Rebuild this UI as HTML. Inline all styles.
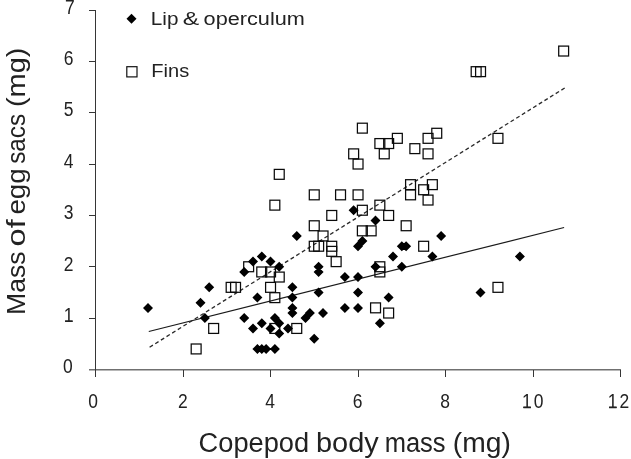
<!DOCTYPE html>
<html><head><meta charset="utf-8"><title>Chart</title>
<style>html,body{margin:0;padding:0;background:#fff;}body{width:631px;height:459px;overflow:hidden;}svg{display:block;will-change:transform;opacity:0.999;}text{font-family:"Liberation Sans",sans-serif;fill:#222;}</style>
</head><body>
<svg width="631" height="459" viewBox="0 0 631 459">
<rect x="0" y="0" width="631" height="459" fill="#ffffff"/>
<line x1="89.0" y1="369.75" x2="621.0" y2="369.75" stroke="#707070" stroke-width="1.5"/>
<g stroke="#363636" stroke-width="1" fill="none" shape-rendering="crispEdges">
<line x1="95.5" y1="10.0" x2="95.5" y2="377.0"/>
<line x1="89.0" y1="318.14" x2="95.5" y2="318.14"/>
<line x1="89.0" y1="266.79" x2="95.5" y2="266.79"/>
<line x1="89.0" y1="215.43" x2="95.5" y2="215.43"/>
<line x1="89.0" y1="164.07" x2="95.5" y2="164.07"/>
<line x1="89.0" y1="112.71" x2="95.5" y2="112.71"/>
<line x1="89.0" y1="61.36" x2="95.5" y2="61.36"/>
<line x1="89.0" y1="10.00" x2="95.5" y2="10.00"/>
<line x1="183.00" y1="369.5" x2="183.00" y2="377.0"/>
<line x1="270.50" y1="369.5" x2="270.50" y2="377.0"/>
<line x1="358.00" y1="369.5" x2="358.00" y2="377.0"/>
<line x1="445.50" y1="369.5" x2="445.50" y2="377.0"/>
<line x1="533.00" y1="369.5" x2="533.00" y2="377.0"/>
<line x1="620.50" y1="369.5" x2="620.50" y2="377.0"/>
</g>
<g font-size="20.3" text-anchor="middle">
<text x="67.8" y="373.2" textLength="9.71" lengthAdjust="spacingAndGlyphs">0</text>
<text x="68.6" y="321.8" textLength="9.71" lengthAdjust="spacingAndGlyphs">1</text>
<rect x="65.1" y="320.5" width="7.5" height="1.35" fill="#222"/>
<text x="68.6" y="270.5" textLength="9.71" lengthAdjust="spacingAndGlyphs">2</text>
<text x="68.6" y="219.1" textLength="9.71" lengthAdjust="spacingAndGlyphs">3</text>
<text x="68.6" y="167.8" textLength="9.71" lengthAdjust="spacingAndGlyphs">4</text>
<text x="68.6" y="116.4" textLength="9.71" lengthAdjust="spacingAndGlyphs">5</text>
<text x="68.6" y="65.1" textLength="9.71" lengthAdjust="spacingAndGlyphs">6</text>
<text x="69.8" y="14.3" textLength="9.71" lengthAdjust="spacingAndGlyphs">7</text>
<text x="93.2" y="408.3" textLength="9.71" lengthAdjust="spacingAndGlyphs">0</text>
<text x="182.8" y="408.3" textLength="9.71" lengthAdjust="spacingAndGlyphs">2</text>
<text x="270.2" y="408.3" textLength="9.71" lengthAdjust="spacingAndGlyphs">4</text>
<text x="357.7" y="408.3" textLength="9.71" lengthAdjust="spacingAndGlyphs">6</text>
<text x="445.2" y="408.3" textLength="9.71" lengthAdjust="spacingAndGlyphs">8</text>
<text x="526.9" y="408.3" textLength="9.71" lengthAdjust="spacingAndGlyphs">1</text>
<rect x="523.4" y="406.9" width="7.5" height="1.35" fill="#222"/>
<text x="538.5" y="408.3" textLength="9.71" lengthAdjust="spacingAndGlyphs">0</text>
<text x="612.6" y="408.3" textLength="9.71" lengthAdjust="spacingAndGlyphs">1</text>
<rect x="609.1" y="406.9" width="7.5" height="1.35" fill="#222"/>
<text x="624.4" y="408.3" textLength="9.71" lengthAdjust="spacingAndGlyphs">2</text>
</g>
<text x="198.6" y="451.6" font-size="26.8" textLength="110.47" lengthAdjust="spacingAndGlyphs">Copepod</text>
<text x="316.0" y="451.6" font-size="26.8" textLength="62.69" lengthAdjust="spacingAndGlyphs">body</text>
<text x="384.7" y="451.6" font-size="26.8" textLength="60.9" lengthAdjust="spacingAndGlyphs">mass</text>
<text x="452.8" y="451.6" font-size="26.8" textLength="58.03" lengthAdjust="spacingAndGlyphs">(mg)</text>
<text transform="translate(25.4,314.9) rotate(-90)" font-size="26.6" textLength="63.37" lengthAdjust="spacingAndGlyphs">Mass</text>
<text transform="translate(25.4,246.4) rotate(-90)" font-size="26.6" textLength="27.16" lengthAdjust="spacingAndGlyphs">of</text>
<text transform="translate(25.4,214.6) rotate(-90)" font-size="26.6" textLength="46.36" lengthAdjust="spacingAndGlyphs">egg</text>
<text transform="translate(25.4,163.8) rotate(-90)" font-size="26.6" textLength="49.88" lengthAdjust="spacingAndGlyphs">sacs</text>
<text transform="translate(25.4,107.1) rotate(-90)" font-size="26.6" textLength="59.45" lengthAdjust="spacingAndGlyphs">(mg)</text>
<text x="150.8" y="24.8" font-size="18.7" textLength="27.63" lengthAdjust="spacingAndGlyphs">Lip</text>
<text x="182.8" y="24.8" font-size="18.7" textLength="16.4" lengthAdjust="spacingAndGlyphs">&amp;</text>
<text x="203.6" y="24.8" font-size="18.7" textLength="101.25" lengthAdjust="spacingAndGlyphs">operculum</text>
<text x="151.3" y="77.2" font-size="18.7" textLength="37.89" lengthAdjust="spacingAndGlyphs">Fins</text>
<path d="M131.5 13.7 L136.5 18.7 L131.5 23.7 L126.5 18.7 Z" fill="#000"/>
<rect x="126.80" y="66.70" width="10.2" height="10.2" fill="none" stroke="#111" stroke-width="1.2"/>
<line x1="148.8" y1="331.5" x2="564.1" y2="227.5" stroke="#1a1a1a" stroke-width="1.2"/>
<line x1="149.6" y1="347.2" x2="564.7" y2="88" stroke="#2a2a2a" stroke-width="1.3" stroke-dasharray="3.9 2.75"/>
<g fill="none" stroke="#0a0a0a" stroke-width="1.25">
<rect x="191.2" y="344.0" width="9.9" height="9.9"/>
<rect x="208.7" y="323.5" width="9.9" height="9.9"/>
<rect x="226.2" y="282.4" width="9.9" height="9.9"/>
<rect x="230.6" y="282.4" width="9.9" height="9.9"/>
<rect x="243.7" y="261.8" width="9.9" height="9.9"/>
<rect x="256.8" y="267.0" width="9.9" height="9.9"/>
<rect x="265.6" y="267.0" width="9.9" height="9.9"/>
<rect x="274.3" y="272.1" width="9.9" height="9.9"/>
<rect x="265.6" y="282.4" width="9.9" height="9.9"/>
<rect x="269.9" y="292.7" width="9.9" height="9.9"/>
<rect x="269.9" y="323.5" width="9.9" height="9.9"/>
<rect x="291.8" y="323.5" width="9.9" height="9.9"/>
<rect x="309.3" y="189.9" width="9.9" height="9.9"/>
<rect x="335.6" y="189.9" width="9.9" height="9.9"/>
<rect x="353.1" y="189.9" width="9.9" height="9.9"/>
<rect x="326.8" y="210.5" width="9.9" height="9.9"/>
<rect x="309.3" y="220.8" width="9.9" height="9.9"/>
<rect x="318.1" y="231.0" width="9.9" height="9.9"/>
<rect x="309.3" y="241.3" width="9.9" height="9.9"/>
<rect x="313.7" y="241.3" width="9.9" height="9.9"/>
<rect x="326.8" y="241.3" width="9.9" height="9.9"/>
<rect x="326.8" y="246.4" width="9.9" height="9.9"/>
<rect x="331.2" y="256.7" width="9.9" height="9.9"/>
<rect x="357.4" y="205.3" width="9.9" height="9.9"/>
<rect x="374.9" y="200.2" width="9.9" height="9.9"/>
<rect x="383.7" y="210.5" width="9.9" height="9.9"/>
<rect x="357.4" y="225.9" width="9.9" height="9.9"/>
<rect x="366.2" y="225.9" width="9.9" height="9.9"/>
<rect x="374.9" y="261.8" width="9.9" height="9.9"/>
<rect x="374.9" y="267.0" width="9.9" height="9.9"/>
<rect x="370.6" y="302.9" width="9.9" height="9.9"/>
<rect x="383.7" y="308.1" width="9.9" height="9.9"/>
<rect x="405.6" y="179.7" width="9.9" height="9.9"/>
<rect x="405.6" y="189.9" width="9.9" height="9.9"/>
<rect x="418.7" y="184.8" width="9.9" height="9.9"/>
<rect x="427.4" y="179.7" width="9.9" height="9.9"/>
<rect x="423.1" y="195.1" width="9.9" height="9.9"/>
<rect x="401.2" y="220.8" width="9.9" height="9.9"/>
<rect x="418.7" y="241.3" width="9.9" height="9.9"/>
<rect x="357.4" y="123.2" width="9.9" height="9.9"/>
<rect x="348.7" y="148.9" width="9.9" height="9.9"/>
<rect x="353.1" y="159.1" width="9.9" height="9.9"/>
<rect x="374.9" y="138.6" width="9.9" height="9.9"/>
<rect x="383.7" y="138.6" width="9.9" height="9.9"/>
<rect x="392.4" y="133.4" width="9.9" height="9.9"/>
<rect x="379.3" y="148.9" width="9.9" height="9.9"/>
<rect x="409.9" y="143.7" width="9.9" height="9.9"/>
<rect x="423.1" y="133.4" width="9.9" height="9.9"/>
<rect x="431.8" y="128.3" width="9.9" height="9.9"/>
<rect x="423.1" y="148.9" width="9.9" height="9.9"/>
<rect x="274.3" y="169.4" width="9.9" height="9.9"/>
<rect x="269.9" y="200.2" width="9.9" height="9.9"/>
<rect x="471.2" y="66.7" width="9.9" height="9.9"/>
<rect x="475.6" y="66.7" width="9.9" height="9.9"/>
<rect x="558.7" y="46.1" width="9.9" height="9.9"/>
<rect x="493.0" y="133.4" width="9.9" height="9.9"/>
<rect x="493.0" y="282.4" width="9.9" height="9.9"/>
</g>
<path fill="#000" d="M148.0 302.9L153.0 307.9L148.0 312.9L143.0 307.9ZM200.5 297.7L205.5 302.7L200.5 307.7L195.5 302.7ZM209.2 282.3L214.2 287.3L209.2 292.3L204.2 287.3ZM204.9 313.1L209.9 318.1L204.9 323.1L199.9 318.1ZM244.2 266.9L249.2 271.9L244.2 276.9L239.2 271.9ZM253.0 256.6L258.0 261.6L253.0 266.6L248.0 261.6ZM261.8 251.5L266.8 256.5L261.8 261.5L256.8 256.5ZM270.5 256.6L275.5 261.6L270.5 266.6L265.5 261.6ZM279.2 261.8L284.2 266.8L279.2 271.8L274.2 266.8ZM257.4 292.6L262.4 297.6L257.4 302.6L252.4 297.6ZM244.2 313.1L249.2 318.1L244.2 323.1L239.2 318.1ZM253.0 323.4L258.0 328.4L253.0 333.4L248.0 328.4ZM261.8 318.3L266.8 323.3L261.8 328.3L256.8 323.3ZM270.5 323.4L275.5 328.4L270.5 333.4L265.5 328.4ZM274.9 313.1L279.9 318.1L274.9 323.1L269.9 318.1ZM279.2 318.3L284.2 323.3L279.2 328.3L274.2 323.3ZM279.2 328.6L284.2 333.6L279.2 338.6L274.2 333.6ZM288.0 323.4L293.0 328.4L288.0 333.4L283.0 328.4ZM257.4 344.0L262.4 349.0L257.4 354.0L252.4 349.0ZM261.8 344.0L266.8 349.0L261.8 354.0L256.8 349.0ZM266.1 344.0L271.1 349.0L266.1 354.0L261.1 349.0ZM274.9 344.0L279.9 349.0L274.9 354.0L269.9 349.0ZM292.4 282.3L297.4 287.3L292.4 292.3L287.4 287.3ZM292.4 292.6L297.4 297.6L292.4 302.6L287.4 297.6ZM292.4 302.9L297.4 307.9L292.4 312.9L287.4 307.9ZM292.4 308.0L297.4 313.0L292.4 318.0L287.4 313.0ZM318.6 261.8L323.6 266.8L318.6 271.8L313.6 266.8ZM318.6 266.9L323.6 271.9L318.6 276.9L313.6 271.9ZM318.6 287.5L323.6 292.5L318.6 297.5L313.6 292.5ZM323.0 308.0L328.0 313.0L323.0 318.0L318.0 313.0ZM309.9 308.0L314.9 313.0L309.9 318.0L304.9 313.0ZM305.5 313.1L310.5 318.1L305.5 323.1L300.5 318.1ZM314.2 333.7L319.2 338.7L314.2 343.7L309.2 338.7ZM296.8 231.0L301.8 236.0L296.8 241.0L291.8 236.0ZM353.6 205.3L358.6 210.3L353.6 215.3L348.6 210.3ZM375.5 215.6L380.5 220.6L375.5 225.6L370.5 220.6ZM362.4 236.1L367.4 241.1L362.4 246.1L357.4 241.1ZM358.0 241.2L363.0 246.2L358.0 251.2L353.0 246.2ZM375.5 261.8L380.5 266.8L375.5 271.8L370.5 266.8ZM344.9 272.1L349.9 277.1L344.9 282.1L339.9 277.1ZM358.0 272.1L363.0 277.1L358.0 282.1L353.0 277.1ZM358.0 287.5L363.0 292.5L358.0 297.5L353.0 292.5ZM344.9 302.9L349.9 307.9L344.9 312.9L339.9 307.9ZM358.0 302.9L363.0 307.9L358.0 312.9L353.0 307.9ZM393.0 251.5L398.0 256.5L393.0 261.5L388.0 256.5ZM401.8 261.8L406.8 266.8L401.8 271.8L396.8 266.8ZM388.6 292.6L393.6 297.6L388.6 302.6L383.6 297.6ZM379.9 318.3L384.9 323.3L379.9 328.3L374.9 323.3ZM441.1 231.0L446.1 236.0L441.1 241.0L436.1 236.0ZM401.8 241.2L406.8 246.2L401.8 251.2L396.8 246.2ZM406.1 241.2L411.1 246.2L406.1 251.2L401.1 246.2ZM432.4 251.5L437.4 256.5L432.4 261.5L427.4 256.5ZM519.9 251.5L524.9 256.5L519.9 261.5L514.9 256.5ZM480.5 287.5L485.5 292.5L480.5 297.5L475.5 292.5Z"/>
</svg>
</body></html>
